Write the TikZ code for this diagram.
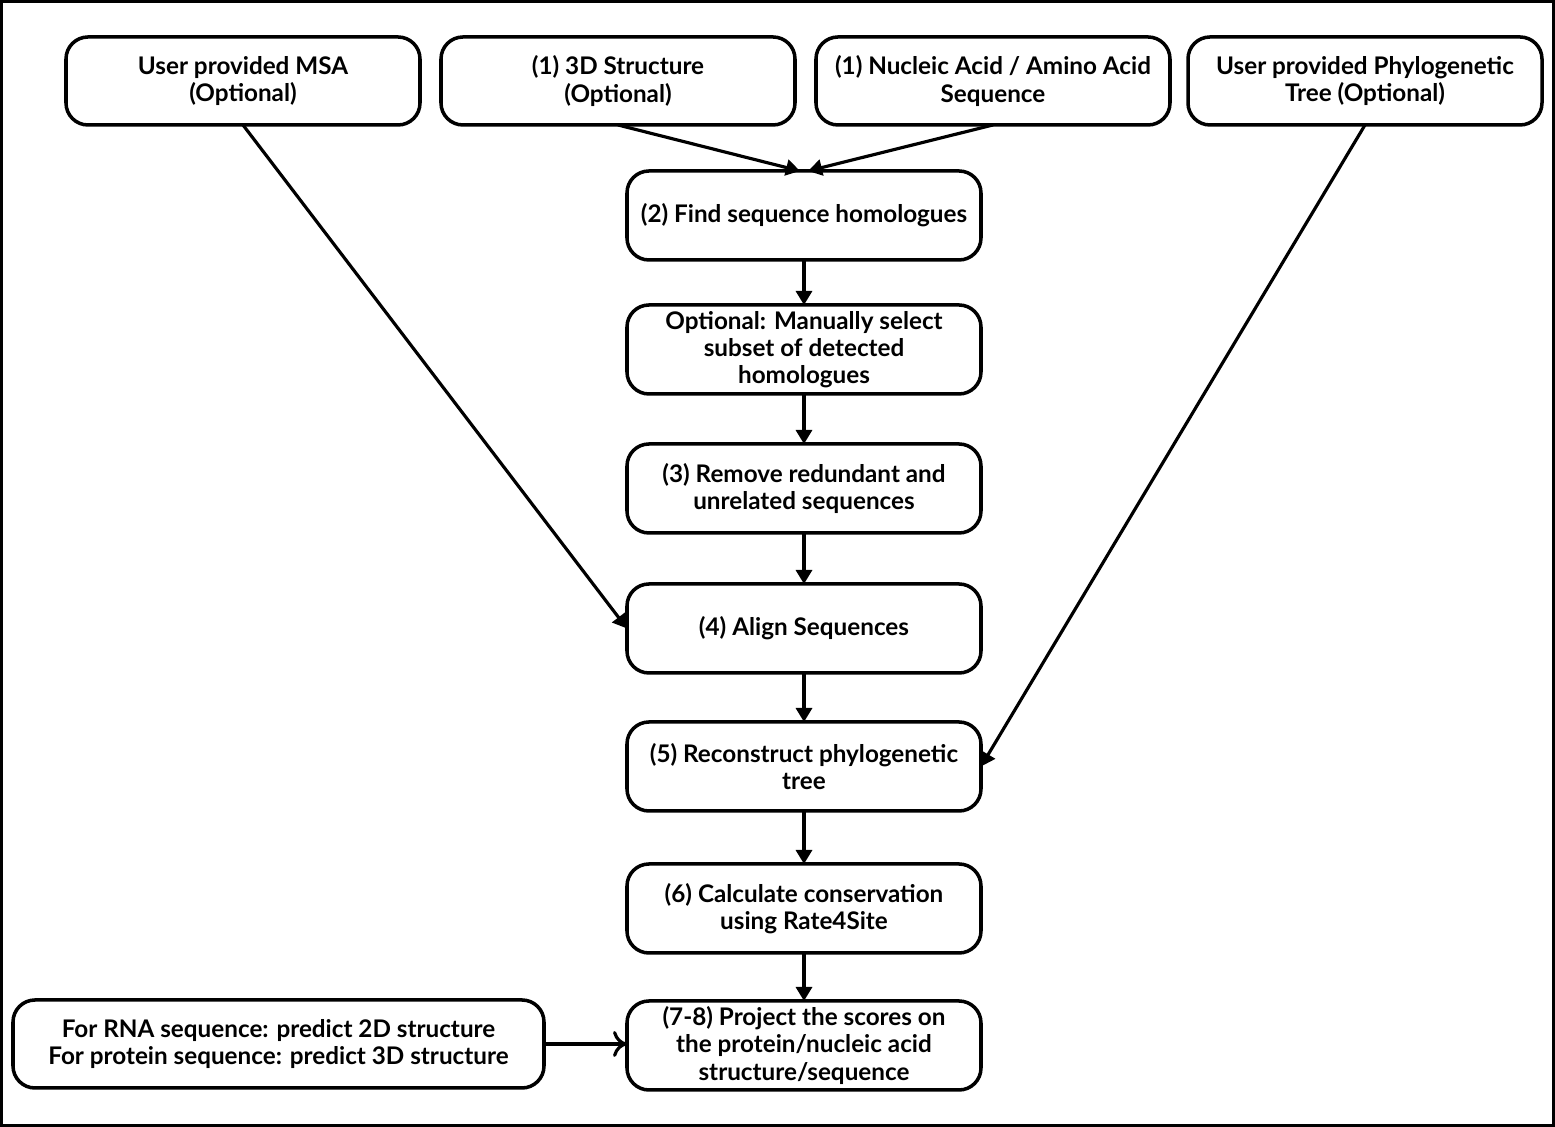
\documentclass[tikz,border=0pt]{standalone}
\usepackage{fontspec}
\setmainfont{Lato}
\usepackage{tikz}
\usetikzlibrary{positioning}
\usetikzlibrary{arrows.meta}

\begin{document}
\begin{tikzpicture}[
font=\fontsize{6.9}{7.7}\selectfont\bfseries,
node distance=0.48cm,
inputnode/.style={rectangle, rounded corners=2.2mm, draw=black, line width=1pt, outer sep=0pt, minimum width=3.54cm, minimum height=0.88cm, inner sep=0pt, align=center},
stepnode/.style={rectangle, rounded corners=2.2mm, draw=black, line width=1pt, outer sep=0pt, minimum width=3.54cm, minimum height=0.89cm, inner sep=0pt, align=center},
flow/.style={line width=0.9pt, -{Triangle[length=1.4mm, width=1.6mm]}},
]
\useasboundingbox (0,0) rectangle (15.55,-11.27);
\draw[line width=1pt] (0.01,-0.01) rectangle (15.54,-11.26);

%Nodes
\node[inputnode]	(msa)		at (2.43,-0.81)		{User provided MSA\\(Optional)};
\node[inputnode]	(struct)	at (6.18,-0.81)		{(1) 3D Structure\\(Optional)};
\node[inputnode]	(seq)		at (9.93,-0.81)		{(1) Nucleic Acid / Amino Acid\\Sequence};
\node[inputnode]	(tree)		at (13.65,-0.81)	{User provided Phylogenetic\\Tree (Optional)};
\node[stepnode]		(find)		at (8.04,-2.155)	{(2) Find sequence homologues};
\node[stepnode]		(select)	[below=0.45cm of find]	{Optional: Manually select\\subset of detected\\homologues};
\node[stepnode]		(remove)	[below=0.5cm of select]	{(3) Remove redundant and\\unrelated sequences};
\node[stepnode]		(align)		[below=0.51cm of remove]	{(4) Align Sequences};
\node[stepnode]		(recon)		[below=0.49cm of align]	{(5) Reconstruct phylogenetic\\tree};
\node[stepnode]		(calc)		[below=0.53cm of recon]	{(6) Calculate conservation\\using Rate4Site};
\node[stepnode]		(proj)		[below=of calc]		{(7-8) Project the scores on\\the protein/nucleic acid\\structure/sequence};
\node[inputnode, minimum width=5.31cm]	(predict)	at (2.785,-10.44)	{For RNA sequence: predict 2D structure\\For protein sequence: predict 3D structure};

%Lines
\draw[flow] (struct.south) -- ([xshift=-0.4mm]find.north);
\draw[flow] (seq.south) -- ([xshift=0.4mm]find.north);
\draw[flow] (msa.south) -- (align.west);
\draw[flow] (tree.south) -- (recon.east);
\draw[flow] (find.south) -- (select.north);
\draw[flow] (select.south) -- (remove.north);
\draw[flow] (remove.south) -- (align.north);
\draw[flow] (align.south) -- (recon.north);
\draw[flow] (recon.south) -- (calc.north);
\draw[flow] (calc.south) -- (proj.north);
\draw[line width=0.9pt, -{To[length=1.4mm, width=2.6mm]}] (predict.east) -- (predict.east -| proj.west);
\end{tikzpicture}
\end{document}
